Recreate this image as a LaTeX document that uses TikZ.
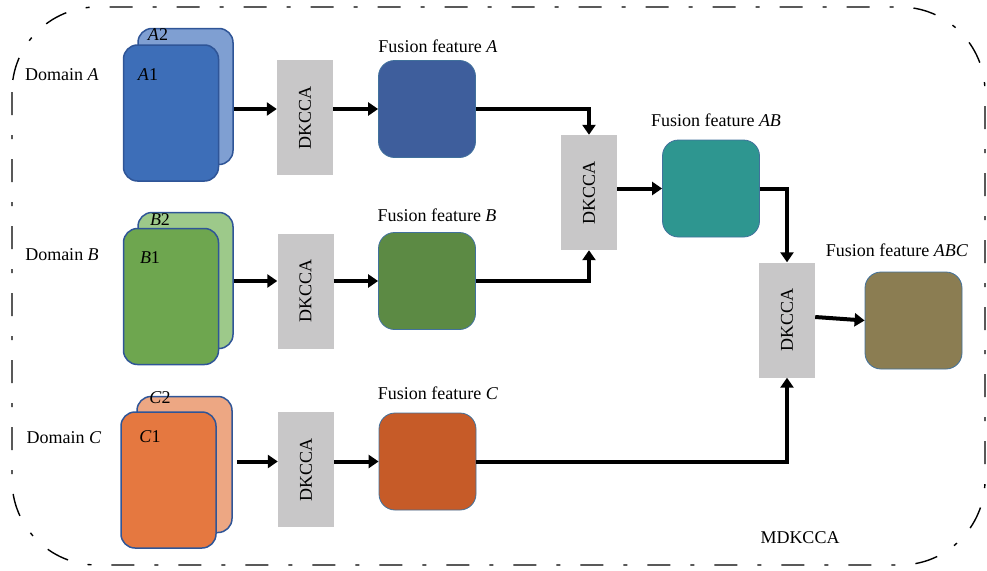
\documentclass[tikz,border=0pt]{standalone}
\usepackage{fontspec}
\setmainfont{Liberation Serif}
\usepackage{graphicx}
\usetikzlibrary{arrows.meta}
\usepackage{xcolor}

\definecolor{afront}{HTML}{3D6EB8}
\definecolor{aback}{HTML}{7F9FD2}
\definecolor{bfront}{HTML}{6EA64F}
\definecolor{bback}{HTML}{9DC98A}
\definecolor{cfront}{HTML}{E57840}
\definecolor{cback}{HTML}{EDA783}
\definecolor{fusa}{HTML}{3E5E9C}
\definecolor{fusb}{HTML}{5C8A44}
\definecolor{fusc}{HTML}{C65B28}
\definecolor{fusab}{HTML}{2E9690}
\definecolor{fusabc}{HTML}{8B7D52}
\definecolor{boxgray}{HTML}{C8C7C8}
\definecolor{edgeblue}{HTML}{2F5597}
\definecolor{fusedge}{HTML}{41719C}

\begin{document}
\begin{tikzpicture}[x=1pt,y=-1pt,font=\fontsize{18}{20}\selectfont,
  layer/.style={draw=edgeblue,line width=1.5pt,rounded corners=14pt,inner sep=0pt,
    minimum width=95pt,minimum height=136pt},
  dkcca/.style={fill=boxgray,inner sep=0pt,minimum width=56pt,minimum height=115pt},
  fusion/.style={draw=fusedge,line width=0.8pt,rounded corners=16pt,inner sep=0pt,
    minimum width=97pt,minimum height=97pt},
  arr/.style={line width=4pt,-{Triangle[length=10pt,width=13pt]}}]
\useasboundingbox (0,0) rectangle (987,570);
\draw[line width=1.4pt,rounded corners=85pt,dash pattern=on 23pt off 20pt on 4pt off 20pt]
  (12,7) rectangle (985,565);

% domain stacks
\node[layer,fill=aback] (A2) at (185.5,96.5) {};
\node[layer,fill=afront] (A1) at (171,113) {};
\node (A2txt) at (158,35) {\textit{A}2};
\node (A1txt) at (148,75) {\textit{A}1};
\node (domA) at (62,75) {Domain \textit{A}};
\node[layer,fill=bback] (B2) at (185.5,280.5) {};
\node[layer,fill=bfront] (B1) at (171,296.5) {};
\node (B2txt) at (160,220) {\textit{B}2};
\node (B1txt) at (150,258) {\textit{B}1};
\node (domB) at (62,255) {Domain \textit{B}};
\node[layer,fill=cback] (C2) at (184.5,464.5) {};
\node[layer,fill=cfront] (C1) at (168.5,480) {};
\node (C2txt) at (160,398) {\textit{C}2};
\node (C1txt) at (150,437) {\textit{C}1};
\node (domC) at (64,438) {Domain \textit{C}};

% DKCCA blocks
\node[dkcca] (d1) at (305,117.5) {\rotatebox{90}{DKCCA}};
\node[dkcca] (d2) at (305.5,291) {\rotatebox{90}{DKCCA}};
\node[dkcca] (d3) at (306,469.5) {\rotatebox{90}{DKCCA}};
\node[dkcca] (dAB) at (589,192.5) {\rotatebox{90}{DKCCA}};
\node[dkcca] (dABC) at (787,320) {\rotatebox{90}{DKCCA}};

% fused features
\node[fusion,fill=fusa] (fA) at (427,109) {};
\node[fusion,fill=fusb] (fB) at (427,281) {};
\node[fusion,fill=fusc] (fC) at (427.5,461.5) {};
\node[fusion,fill=fusab] (fAB) at (711,188.5) {};
\node[fusion,fill=fusabc] (fABC) at (913.5,320.5) {};
\node (fAtxt) at (438,46) {Fusion feature \textit{A}};
\node (fBtxt) at (437,215) {Fusion feature \textit{B}};
\node (fCtxt) at (438,393) {Fusion feature \textit{C}};
\node (fABtxt) at (716,120) {Fusion feature \textit{AB}};
\node (fABCtxt) at (897,250) {Fusion feature \textit{ABC}};
\node (mdk) at (800,538) {MDKCCA};

% connectors
\draw[arr] (A2.east |- fA.west) -- (d1.west |- fA.west);
\draw[arr] (d1.east |- fA.west) -- (fA.west);
\draw[arr] (B2.east |- fB.west) -- (d2.west |- fB.west);
\draw[arr] (d2.east |- fB.west) -- (fB.west);
\draw[arr] ([xshift=4pt]C2.east |- fC.west) -- (d3.west |- fC.west);
\draw[arr] (d3.east |- fC.west) -- (fC.west);
\draw[arr] (fA.east) -| (dAB.north);
\draw[arr] (fB.east) -| (dAB.south);
\draw[arr] (dAB.east |- fAB.west) -- (fAB.west);
\draw[arr] (fAB.east) -| (dABC.north);
\draw[arr] (fC.east) -| (dABC.south);
\draw[arr] ([yshift=3pt]dABC.east) -- (fABC.west);
\end{tikzpicture}
\end{document}
